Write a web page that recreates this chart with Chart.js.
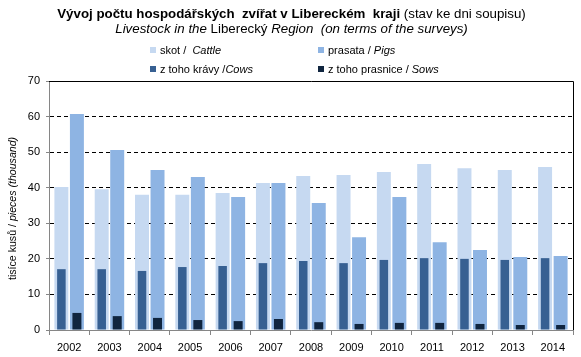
<!DOCTYPE html>
<html>
<head>
<meta charset="utf-8">
<script src="https://cdn.jsdelivr.net/npm/chart.js@4/dist/chart.umd.min.js"></script>
<style>
  html, body { margin: 0; padding: 0; background: #fff; }
  #wrap { position: relative; width: 581px; height: 357px; font-family: "Liberation Sans", Arial, sans-serif; color: #000; }
  canvas { position: absolute; left: 0; top: 0; }
  .t { position: absolute; white-space: nowrap; }
  .title1 { left: 0; width: 583px; text-align: center; top: 6px; font-size: 13.3px; line-height: 16px; }
  .title2 { left: 0; width: 583px; text-align: center; top: 21px; font-size: 13.3px; line-height: 16px; }
  .leg { font-size: 11px; line-height: 13px; }
  .sq { position: absolute; width: 6px; height: 6px; }
  .ytitle { font-size: 10.6px; line-height: 12px; }
</style>
</head>
<body>
<div id="wrap">
  <canvas id="c" width="581" height="357"></canvas>
  <div class="t title1"><b>Vývoj počtu hospodářských&nbsp; zvířat v Libereckém&nbsp; kraji</b> (stav ke dni soupisu)</div>
  <div class="t title2"><i>Livestock in the</i> Liberecký <i>Region&nbsp; (on terms of the surveys)</i></div>
  <div class="sq" id="sq0" style="left:150px; top:47px;"></div>
  <div class="t leg" style="left:160px; top:44px;">skot /&nbsp; <i>Cattle</i></div>
  <div class="sq" id="sq1" style="left:318px; top:47px;"></div>
  <div class="t leg" style="left:328px; top:44px;">prasata / <i>Pigs</i></div>
  <div class="sq" id="sq2" style="left:150px; top:66px;"></div>
  <div class="t leg" style="left:160px; top:63px;">z toho krávy /<i>Cows</i></div>
  <div class="sq" id="sq3" style="left:318px; top:66px;"></div>
  <div class="t leg" style="left:328px; top:63px;">z toho prasnice / <i>Sows</i></div>
  <div class="t ytitle" id="yt">tisíce kusů / <i>pieces (thousand)</i></div>
</div>
<script>
const years = ["2002","2003","2004","2005","2006","2007","2008","2009","2010","2011","2012","2013","2014"];
const cattle = [40.2, 39.6, 38.0, 38.0, 38.5, 41.3, 43.3, 43.6, 44.4, 46.7, 45.5, 45.0, 45.8];
const pigs   = [60.7, 50.6, 45.0, 43.0, 37.4, 41.3, 35.7, 26.1, 37.4, 24.7, 22.5, 20.5, 20.8];
const cows   = [17.1, 17.1, 16.6, 17.7, 18.0, 18.8, 19.4, 18.8, 19.7, 20.2, 20.0, 19.7, 20.2];
const sows   = [4.8, 3.9, 3.4, 2.8, 2.5, 3.1, 2.2, 1.7, 2.0, 2.0, 1.7, 1.4, 1.4];
const yTicks = [0, 10, 20, 30, 40, 50, 60, 70];

const colors = { cattle: "#C6D9F1", pigs: "#8EB4E3", cows: "#376092", sows: "#10253F" };
document.getElementById("sq0").style.background = colors.cattle;
document.getElementById("sq1").style.background = colors.pigs;
document.getElementById("sq2").style.background = colors.cows;
document.getElementById("sq3").style.background = colors.sows;

const yt = document.getElementById("yt");
const ytW = yt.offsetWidth, ytH = yt.offsetHeight;
const cx = 12, cy = 208;
yt.style.left = Math.round(cx - ytH / 2) + "px";
yt.style.top = Math.round(cy + ytW / 2) + "px";
yt.style.transformOrigin = "0 0";
yt.style.transform = "rotate(-90deg)";

const borderPlugin = {
  id: "frame",
  afterDraw(chart) {
    const { ctx, chartArea: a } = chart;
    ctx.save();
    ctx.strokeStyle = "#000";
    ctx.lineWidth = 1;
    ctx.beginPath();
    ctx.moveTo(a.left, Math.round(a.top) + 0.5);
    ctx.lineTo(Math.round(a.right) + 0.5, Math.round(a.top) + 0.5);
    ctx.lineTo(Math.round(a.right) + 0.5, a.bottom);
    ctx.stroke();
    ctx.restore();
  }
};

const catPct = 0.77;
new Chart(document.getElementById("c"), {
  type: "bar",
  data: {
    labels: years,
    datasets: [
      { label: "z toho krávy / Cows", data: cows, backgroundColor: colors.cows, stack: "a", order: 1, barPercentage: 0.55, categoryPercentage: catPct },
      { label: "z toho prasnice / Sows", data: sows, backgroundColor: colors.sows, stack: "b", order: 1, barPercentage: 0.58, categoryPercentage: catPct },
      { label: "skot / Cattle", data: cattle, backgroundColor: colors.cattle, stack: "a", order: 2, barPercentage: 0.9, categoryPercentage: catPct },
      { label: "prasata / Pigs", data: pigs, backgroundColor: colors.pigs, stack: "b", order: 2, barPercentage: 0.9, categoryPercentage: catPct }
    ]
  },
  options: {
    responsive: false,
    animation: false,
    layout: { padding: { left: 0, right: 8, top: 81, bottom: 0 } },
    plugins: { legend: { display: false }, tooltip: { enabled: false }, title: { display: false } },
    scales: {
      x: {
        type: "category",
        offset: true,
        grid: { offset: true, drawOnChartArea: false, drawTicks: true, tickLength: 5, color: "#868686" },
        border: { color: "#868686", width: 1 },
        ticks: { color: "#000", font: { family: "Liberation Sans", size: 11 }, padding: 6, maxRotation: 0, autoSkip: false },
        afterFit(s) { s.height = 27; }
      },
      y: {
        stacked: false,
        min: 0, max: 70,
        afterBuildTicks(s) { s.ticks = yTicks.map(v => ({ value: v })); },
        grid: {
          color: (c) => (c.tick && (c.tick.value === 0 || c.tick.value === 70)) ? "rgba(0,0,0,0)" : "#000",
          lineWidth: 1,
          drawTicks: true,
          tickLength: 3,
          tickColor: "#868686"
        },
        border: { color: "#868686", width: 1, dash: [4, 3] },
        ticks: { color: "#000", font: { family: "Liberation Sans", size: 11 }, padding: 6 },
        afterFit(s) { s.width = 49; }
      }
    }
  },
  plugins: [borderPlugin]
});
</script>
</body>
</html>
